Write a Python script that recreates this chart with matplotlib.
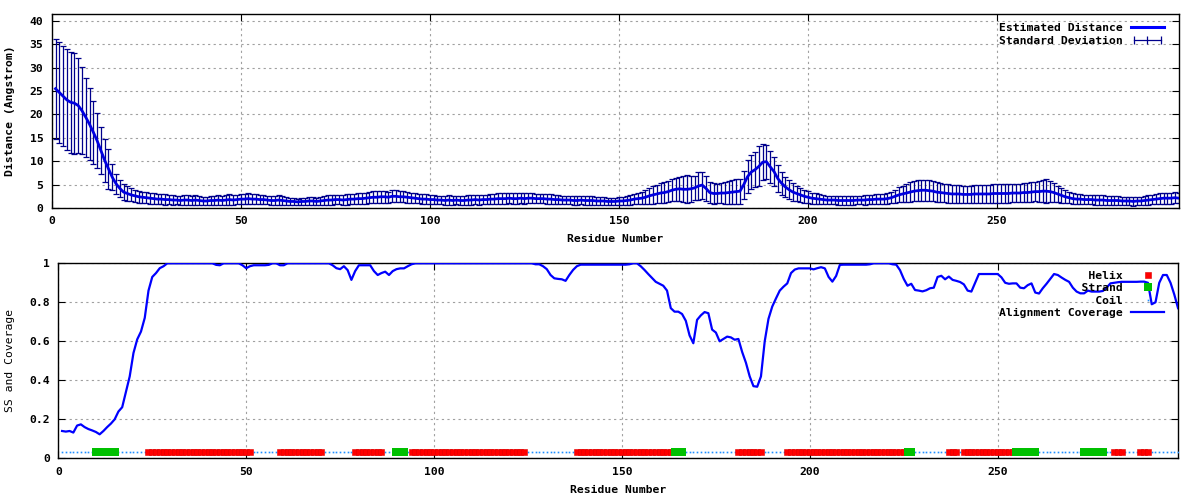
import numpy as np
import matplotlib
matplotlib.use('Agg')
import matplotlib.pyplot as plt
from matplotlib.lines import Line2D
from matplotlib.legend_handler import HandlerLine2D

# ---------------- data ----------------
residues = np.arange(1, 299)

distance = [
    25.5, 24.7, 23.9, 23.1, 22.6, 22.4, 21.9, 20.8, 19.4, 17.9,
    16.2, 14.4, 12.3, 10.2, 8.4, 6.6, 5.2, 4.2, 3.4, 3.1,
    2.8, 2.6, 2.4, 2.3, 2.2, 2.1, 2.0, 1.9, 1.9, 1.8,
    1.8, 1.7, 1.7, 1.6, 1.7, 1.7, 1.6, 1.7, 1.6, 1.5,
    1.5, 1.6, 1.6, 1.7, 1.6, 1.7, 1.8, 1.7, 1.8, 1.9,
    1.9, 2.0, 1.9, 1.9, 1.8, 1.8, 1.7, 1.6, 1.6, 1.7,
    1.6, 1.5, 1.4, 1.4, 1.3, 1.4, 1.4, 1.5, 1.5, 1.4,
    1.5, 1.6, 1.7, 1.7, 1.8, 1.8, 1.7, 1.8, 1.9, 1.9,
    2.0, 2.0, 2.1, 2.2, 2.3, 2.3, 2.4, 2.4, 2.3, 2.5,
    2.5, 2.4, 2.4, 2.3, 2.2, 2.1, 2.0, 1.9, 1.9, 1.8,
    1.8, 1.7, 1.7, 1.6, 1.7, 1.6, 1.7, 1.6, 1.6, 1.7,
    1.7, 1.8, 1.7, 1.8, 1.8, 1.9, 1.9, 2.0, 2.0, 2.0,
    2.1, 2.0, 2.0, 2.1, 2.0, 2.1, 2.1, 2.0, 2.0, 2.0,
    1.9, 1.9, 1.8, 1.8, 1.7, 1.7, 1.7, 1.6, 1.6, 1.7,
    1.6, 1.6, 1.6, 1.5, 1.5, 1.5, 1.4, 1.4, 1.4, 1.5,
    1.5, 1.6, 1.7, 1.9, 2.0, 2.1, 2.3, 2.6, 2.8, 3.0,
    3.2, 3.3, 3.5, 3.8, 4.0, 4.1, 4.0, 4.0, 4.1, 4.3,
    4.7, 4.9, 4.2, 3.3, 3.1, 3.1, 3.2, 3.2, 3.3, 3.4,
    3.5, 3.6, 5.0, 6.7, 7.7, 8.2, 8.9, 9.8, 9.9, 8.8,
    7.8, 6.3, 5.3, 4.5, 3.9, 3.4, 3.1, 2.8, 2.5, 2.3,
    2.1, 2.0, 1.9, 1.8, 1.7, 1.7, 1.7, 1.6, 1.6, 1.6,
    1.6, 1.6, 1.7, 1.7, 1.7, 1.8, 1.8, 1.9, 1.9, 1.9,
    2.0, 2.2, 2.5, 2.8, 3.0, 3.2, 3.4, 3.6, 3.7, 3.8,
    3.8, 3.7, 3.6, 3.4, 3.3, 3.2, 3.1, 3.0, 3.0, 3.0,
    2.9, 2.9, 2.9, 3.0, 3.0, 3.0, 3.0, 3.0, 3.1, 3.1,
    3.1, 3.1, 3.1, 3.2, 3.2, 3.2, 3.3, 3.3, 3.4, 3.5,
    3.5, 3.6, 3.6, 3.5, 3.3, 3.0, 2.7, 2.4, 2.2, 2.0,
    1.9, 1.9, 1.8, 1.8, 1.8, 1.7, 1.7, 1.7, 1.6, 1.6,
    1.6, 1.6, 1.5, 1.5, 1.5, 1.4, 1.5, 1.5, 1.6, 1.7,
    1.8, 1.9, 2.0, 2.1, 2.1, 2.1, 2.2, 2.1,
]

std_dev = [
    10.65, 10.85, 10.75, 10.8, 10.8, 10.8, 10.2, 9.25, 8.4, 7.7,
    6.75, 5.85, 5.05, 4.65, 4.25, 2.7, 2.15, 1.85, 1.7, 1.65,
    1.4, 1.3, 1.3, 1.2, 1.2, 1.2, 1.2, 1.1, 1.1, 1.1,
    1.0, 1.0, 0.9, 1.0, 1.0, 1.0, 0.9, 1.0, 1.0, 0.9,
    0.9, 1.0, 1.0, 1.0, 1.0, 1.0, 1.1, 1.0, 1.0, 1.1,
    1.1, 1.1, 1.0, 1.0, 1.0, 1.0, 0.9, 0.9, 0.9, 1.0,
    0.9, 0.8, 0.7, 0.7, 0.7, 0.7, 0.8, 0.8, 0.8, 0.8,
    0.9, 0.9, 1.0, 1.0, 1.0, 1.0, 1.0, 1.1, 1.1, 1.1,
    1.1, 1.1, 1.2, 1.2, 1.3, 1.3, 1.3, 1.3, 1.2, 1.3,
    1.3, 1.2, 1.2, 1.2, 1.1, 1.1, 1.0, 1.0, 1.0, 1.0,
    1.0, 0.9, 0.9, 0.9, 1.0, 0.9, 0.9, 0.9, 0.9, 1.0,
    1.0, 1.0, 1.0, 1.0, 1.0, 1.1, 1.1, 1.1, 1.1, 1.1,
    1.1, 1.1, 1.1, 1.1, 1.1, 1.1, 1.1, 1.0, 1.0, 1.0,
    1.0, 1.0, 1.0, 1.0, 0.9, 0.9, 0.9, 0.9, 0.9, 0.9,
    0.9, 0.9, 0.9, 0.9, 0.9, 0.9, 0.8, 0.8, 0.8, 0.9,
    0.9, 0.9, 1.0, 1.1, 1.2, 1.3, 1.5, 1.7, 1.9, 2.0,
    2.1, 2.2, 2.3, 2.4, 2.5, 2.6, 2.8, 3.0, 2.8, 2.6,
    3.0, 2.9, 2.6, 2.2, 2.2, 2.1, 2.2, 2.3, 2.4, 2.5,
    2.6, 2.7, 3.0, 3.5, 3.6, 3.8, 4.3, 3.8, 3.6, 3.4,
    3.2, 2.8, 2.5, 2.2, 2.0, 1.9, 1.7, 1.5, 1.4, 1.3,
    1.2, 1.1, 1.0, 1.0, 0.9, 0.9, 0.9, 0.9, 0.9, 0.9,
    0.9, 0.9, 0.9, 0.9, 1.0, 1.0, 1.0, 1.0, 1.0, 1.0,
    1.1, 1.2, 1.4, 1.6, 1.8, 2.0, 2.1, 2.2, 2.2, 2.2,
    2.2, 2.2, 2.1, 2.1, 2.0, 2.0, 2.0, 2.0, 1.9, 1.9,
    1.9, 1.9, 1.9, 1.9, 1.9, 1.9, 1.9, 2.0, 2.0, 2.0,
    2.0, 2.0, 2.0, 2.0, 2.0, 2.0, 2.0, 2.1, 2.1, 2.1,
    2.2, 2.4, 2.5, 2.2, 2.0, 1.8, 1.6, 1.4, 1.2, 1.1,
    1.0, 1.0, 1.0, 1.0, 1.0, 1.0, 1.0, 1.0, 0.9, 0.9,
    0.9, 0.9, 0.9, 0.9, 0.9, 0.9, 0.9, 0.9, 0.9, 1.0,
    1.0, 1.1, 1.1, 1.2, 1.2, 1.2, 1.2, 1.1,
]

coverage = [
    0.140, 0.137, 0.140, 0.132, 0.168, 0.174, 0.160, 0.150, 0.143, 0.135,
    0.123, 0.140, 0.160, 0.178, 0.200, 0.240, 0.262, 0.340, 0.420, 0.540,
    0.610, 0.650, 0.720, 0.860, 0.930, 0.950, 0.975, 0.985, 1.000, 1.000,
    1.000, 1.000, 1.000, 1.000, 1.000, 1.000, 1.000, 1.000, 1.000, 1.000,
    1.000, 0.992, 0.990, 1.000, 1.000, 1.000, 1.000, 1.000, 0.990, 0.975,
    0.985, 0.990, 0.990, 0.990, 0.990, 0.992, 1.000, 1.000, 0.990, 0.990,
    1.000, 1.000, 1.000, 1.000, 1.000, 1.000, 1.000, 1.000, 1.000, 1.000,
    1.000, 1.000, 0.990, 0.975, 0.970, 0.985, 0.965, 0.915, 0.960, 0.990,
    0.990, 0.990, 0.990, 0.960, 0.940, 0.950, 0.957, 0.940, 0.960, 0.970,
    0.974, 0.974, 0.985, 0.995, 1.000, 1.000, 1.000, 1.000, 1.000, 1.000,
    1.000, 1.000, 1.000, 1.000, 1.000, 1.000, 1.000, 1.000, 1.000, 1.000,
    1.000, 1.000, 1.000, 1.000, 1.000, 1.000, 1.000, 1.000, 1.000, 1.000,
    1.000, 1.000, 1.000, 1.000, 1.000, 1.000, 0.995, 0.995, 0.985, 0.970,
    0.940, 0.923, 0.920, 0.918, 0.910, 0.940, 0.966, 0.985, 0.993, 0.993,
    0.993, 0.993, 0.993, 0.993, 0.993, 0.993, 0.993, 0.993, 0.993, 0.993,
    0.993, 0.995, 1.000, 1.000, 0.985, 0.966, 0.945, 0.925, 0.905, 0.895,
    0.885, 0.860, 0.770, 0.752, 0.752, 0.740, 0.705, 0.630, 0.590, 0.710,
    0.733, 0.750, 0.744, 0.660, 0.645, 0.600, 0.612, 0.624, 0.620, 0.608,
    0.612, 0.545, 0.490, 0.420, 0.370, 0.367, 0.420, 0.600, 0.715, 0.778,
    0.820, 0.860, 0.880, 0.897, 0.950, 0.968, 0.974, 0.974, 0.974, 0.974,
    0.969, 0.975, 0.980, 0.974, 0.930, 0.906, 0.935, 0.992, 0.993, 0.993,
    0.993, 0.993, 0.993, 0.993, 0.993, 0.995, 1.000, 1.000, 1.000, 1.000,
    1.000, 0.995, 0.993, 0.965, 0.920, 0.885, 0.895, 0.863, 0.860, 0.856,
    0.862, 0.872, 0.875, 0.930, 0.936, 0.918, 0.932, 0.915, 0.910, 0.904,
    0.892, 0.860, 0.855, 0.900, 0.945, 0.945, 0.945, 0.945, 0.945, 0.945,
    0.928, 0.900, 0.895, 0.897, 0.897, 0.875, 0.872, 0.888, 0.897, 0.850,
    0.845, 0.872, 0.895, 0.920, 0.945, 0.940, 0.927, 0.915, 0.905, 0.875,
    0.855, 0.846, 0.846, 0.860, 0.855, 0.855, 0.855, 0.858, 0.875, 0.897,
    0.900, 0.903, 0.905, 0.905, 0.905, 0.905, 0.905, 0.906, 0.906, 0.900,
    0.790, 0.800, 0.900, 0.940, 0.940, 0.900, 0.840, 0.770,
]

helix_segments = [(24, 51), (59, 70), (79, 86), (94, 124), (138, 163),
                  (181, 187), (194, 225), (237, 239), (241, 254),
                  (281, 283), (288, 290)]
strand_segments = [(10, 15), (90, 92), (164, 166), (226, 227),
                   (255, 260), (273, 278)]
ss_level = 0.03

x_ticks = [0, 50, 100, 150, 200, 250]
dist_yticks = [0, 5, 10, 15, 20, 25, 30, 35, 40]
cov_yticks = [0, 0.2, 0.4, 0.6, 0.8, 1.0]
cov_yticklabels = ['0', '0.2', '0.4', '0.6', '0.8', '1']

# ---------------- style ----------------
plt.rcParams['font.family'] = ['DejaVu Sans Mono']
plt.rcParams['font.size'] = 8.2
plt.rcParams['font.weight'] = 'bold'

grid_kw = dict(color='#a0a0a0', linestyle=(0, (2, 3)), linewidth=0.8)

fig = plt.figure(figsize=(12, 5), dpi=100)
ax1 = fig.add_axes([0.0431, 0.584, 0.9391, 0.3874])
ax2 = fig.add_axes([0.0486, 0.0834, 0.9331, 0.39])

for ax in (ax1, ax2):
    ax.set_xlim(0, 298)
    ax.set_xticks(x_ticks)
    ax.tick_params(direction='in', top=True, right=True, length=5,
                   width=0.8, pad=6, labelsize=8.2)
    ax.grid(True, **grid_kw)
    ax.set_axisbelow(True)
    for s in ax.spines.values():
        s.set_linewidth(1.0)
    for lab in ax.get_xticklabels() + ax.get_yticklabels():
        lab.set_fontweight('bold')

# ---------------- top panel ----------------
ax1.set_ylim(0, 41.4)
ax1.set_yticks(dist_yticks)
ax1.errorbar(residues, distance, yerr=std_dev, fmt='none',
             ecolor='#00008c', elinewidth=0.9, capsize=2.0, capthick=0.9,
             zorder=2)
ax1.plot(residues, distance, color='#0000e0', linewidth=2.0, zorder=3)
ax1.set_xlabel('Residue Number', fontweight='bold')
ax1.set_ylabel('Distance (Angstrom)', fontweight='bold')
ax1.xaxis.set_label_coords(0.5, -0.135)
ax1.yaxis.set_label_coords(-0.0325, 0.5)

h_line = Line2D([], [], color='#0000ff', linewidth=2.2)
h_err = Line2D([], [], color='#00008c', linewidth=0.9, marker='|',
               markersize=6, markeredgewidth=0.9)
leg1 = ax1.legend([h_line, h_err], ['Estimated Distance', 'Standard Deviation'],
                  loc='upper right', bbox_to_anchor=(0.987, 0.955),
                  frameon=False, markerfirst=False, borderpad=0,
                  borderaxespad=0, labelspacing=0.22, handlelength=2.9,
                  handletextpad=0.7, fontsize=8.2,
                  handler_map={h_err: HandlerLine2D(numpoints=3)})
for t in leg1.get_texts():
    t.set_fontweight('bold')

# ---------------- bottom panel ----------------
ss = np.array(['C'] * len(residues))
for a, b in helix_segments:
    ss[(residues >= a) & (residues <= b)] = 'H'
for a, b in strand_segments:
    ss[(residues >= a) & (residues <= b)] = 'E'

ax2.set_ylim(0, 1)
ax2.set_yticks(cov_yticks)
ax2.set_yticklabels(cov_yticklabels)
for lab in ax2.get_yticklabels():
    lab.set_fontweight('bold')

coil_x = residues[ss == 'C']
helix_x = residues[ss == 'H']
strand_x = residues[ss == 'E']
p_coil, = ax2.plot(coil_x, np.full(len(coil_x), ss_level), linestyle='none',
                   marker='s', markersize=1.2, color='#1e8fff',
                   markeredgewidth=0, zorder=3)
p_helix, = ax2.plot(helix_x, np.full(len(helix_x), ss_level), linestyle='none',
                    marker='s', markersize=4.4, color='#ff0000',
                    markeredgewidth=0.4, markeredgecolor='#e00000', zorder=3)
p_strand, = ax2.plot(strand_x, np.full(len(strand_x), ss_level),
                     linestyle='none', marker='s', markersize=5.2,
                     color='#00c000', markeredgewidth=0, zorder=4)
p_cov, = ax2.plot(residues, coverage, color='#0000ff', linewidth=1.6,
                  zorder=5)
ax2.set_xlabel('Residue Number', fontweight='bold')
ax2.set_ylabel('SS and Coverage', fontweight='normal')
ax2.xaxis.set_label_coords(0.5, -0.138)
ax2.yaxis.set_label_coords(-0.039, 0.5)

labels2 = ['Helix', 'Strand', 'Coil', 'Alignment Coverage']
width = max(len(s) for s in labels2)
labels2 = [s.rjust(width) for s in labels2]
leg2 = ax2.legend([p_helix, p_strand, p_coil, p_cov], labels2,
                  loc='upper right', bbox_to_anchor=(0.9875, 0.962),
                  frameon=False, markerfirst=False, borderpad=0,
                  borderaxespad=0, labelspacing=0.22, handlelength=2.9,
                  handletextpad=0.7, numpoints=1, fontsize=8.2)
for t in leg2.get_texts():
    t.set_fontweight('bold')

fig.savefig('out.png', dpi=100)
